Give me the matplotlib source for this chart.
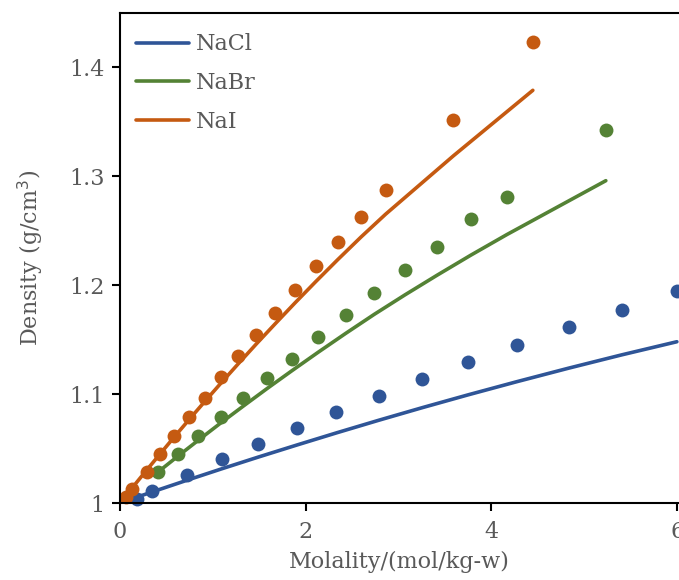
import numpy as np
import matplotlib
matplotlib.use('Agg')
import matplotlib.pyplot as plt
from matplotlib.ticker import FuncFormatter

# Measured densities (points) and model densities (lines), molality in mol/kg-w
nacl_m = [0.18, 0.348, 0.718, 1.099, 1.490, 1.903, 2.331, 2.787, 3.257, 3.752, 4.273, 4.830, 5.401, 5.997]
nacl_meas = [1.0037, 1.0110, 1.0258, 1.0402, 1.0543, 1.0690, 1.0837, 1.0987, 1.1141, 1.1294, 1.1454, 1.1613, 1.1776, 1.1944]
nacl_model = [1.0053, 1.0102, 1.0208, 1.0315, 1.0422, 1.0532, 1.0644, 1.0760, 1.0876, 1.0994, 1.1114, 1.1238, 1.1360, 1.1481]

nabr_m = [0.413, 0.622, 0.843, 1.085, 1.328, 1.587, 1.850, 2.135, 2.431, 2.739, 3.070, 3.415, 3.778, 4.166, 5.232]
nabr_meas = [1.0285, 1.0448, 1.0616, 1.0788, 1.0963, 1.1144, 1.1325, 1.1521, 1.1723, 1.1925, 1.2137, 1.2355, 1.2604, 1.2812, 1.3425]
nabr_model = [1.0287, 1.0429, 1.0576, 1.0735, 1.0890, 1.1053, 1.1214, 1.1385, 1.1558, 1.1733, 1.1912, 1.2092, 1.2276, 1.2465, 1.2960]

nai_m = [0.065, 0.133, 0.288, 0.431, 0.582, 0.743, 0.916, 1.085, 1.274, 1.463, 1.668, 1.885, 2.108, 2.345, 2.596, 2.86, 3.59, 4.446]
nai_meas = [1.0052, 1.0126, 1.0285, 1.0448, 1.0616, 1.0788, 1.0963, 1.1153, 1.1346, 1.1541, 1.1741, 1.1953, 1.2174, 1.2398, 1.2631, 1.2873, 1.3521, 1.4232]
nai_model = [1.0069, 1.0141, 1.0303, 1.0450, 1.0604, 1.0765, 1.0935, 1.1099, 1.1279, 1.1456, 1.1643, 1.1838, 1.2033, 1.2235, 1.2443, 1.2652, 1.3188, 1.3790]

salts = ['NaCl', 'NaBr', 'NaI']
colors = ['#2F5597', '#548235', '#C55A11']

text_color = '#595959'
plt.rcParams['font.family'] = ['DejaVu Serif']
plt.rcParams['font.size'] = 16

fig = plt.figure(figsize=(6.79, 5.8), dpi=100)
ax = fig.add_axes([120 / 679, 1 - 503 / 580, 1 - 120 / 679, (503 - 13) / 580])

series = [(nacl_m, nacl_meas, nacl_model),
          (nabr_m, nabr_meas, nabr_model),
          (nai_m, nai_meas, nai_model)]

for (m, meas, model), name, c in zip(series, salts, colors):
    ax.plot(m, model, color=c, linewidth=2.6, solid_capstyle='round', label=name)
    ax.plot(m, meas, 'o', color=c, markersize=10, markeredgewidth=0, clip_on=False)

ax.set_xlim(0, 6.02)
ax.set_ylim(1, 1.45)
ax.set_xticks([0, 2, 4, 6])
ax.set_yticks([1, 1.1, 1.2, 1.3, 1.4])
ax.yaxis.set_major_formatter(FuncFormatter(lambda v, p: f'{v:g}'))

for s in ['left', 'bottom', 'top']:
    ax.spines[s].set_linewidth(1.5)
    ax.spines[s].set_color('black')
ax.spines['right'].set_visible(False)
ax.tick_params(direction='out', length=6, width=1.5, colors='black',
               labelcolor=text_color, labelsize=16)
ax.tick_params(axis='x', pad=7)
ax.tick_params(axis='y', pad=5)

ax.set_xlabel('Molality/(mol/kg-w)', color=text_color, fontsize=16, labelpad=6)
ax.set_ylabel('Density (g/cm$^3$)', color=text_color, fontsize=16, labelpad=17)

leg = ax.legend(loc='upper left', frameon=False, handlelength=2.4, handletextpad=0.3,
                labelspacing=0.75, borderaxespad=0.3, bbox_to_anchor=(0.0, 0.99))
for t in leg.get_texts():
    t.set_color(text_color)

fig.savefig('out.png', dpi=100)
